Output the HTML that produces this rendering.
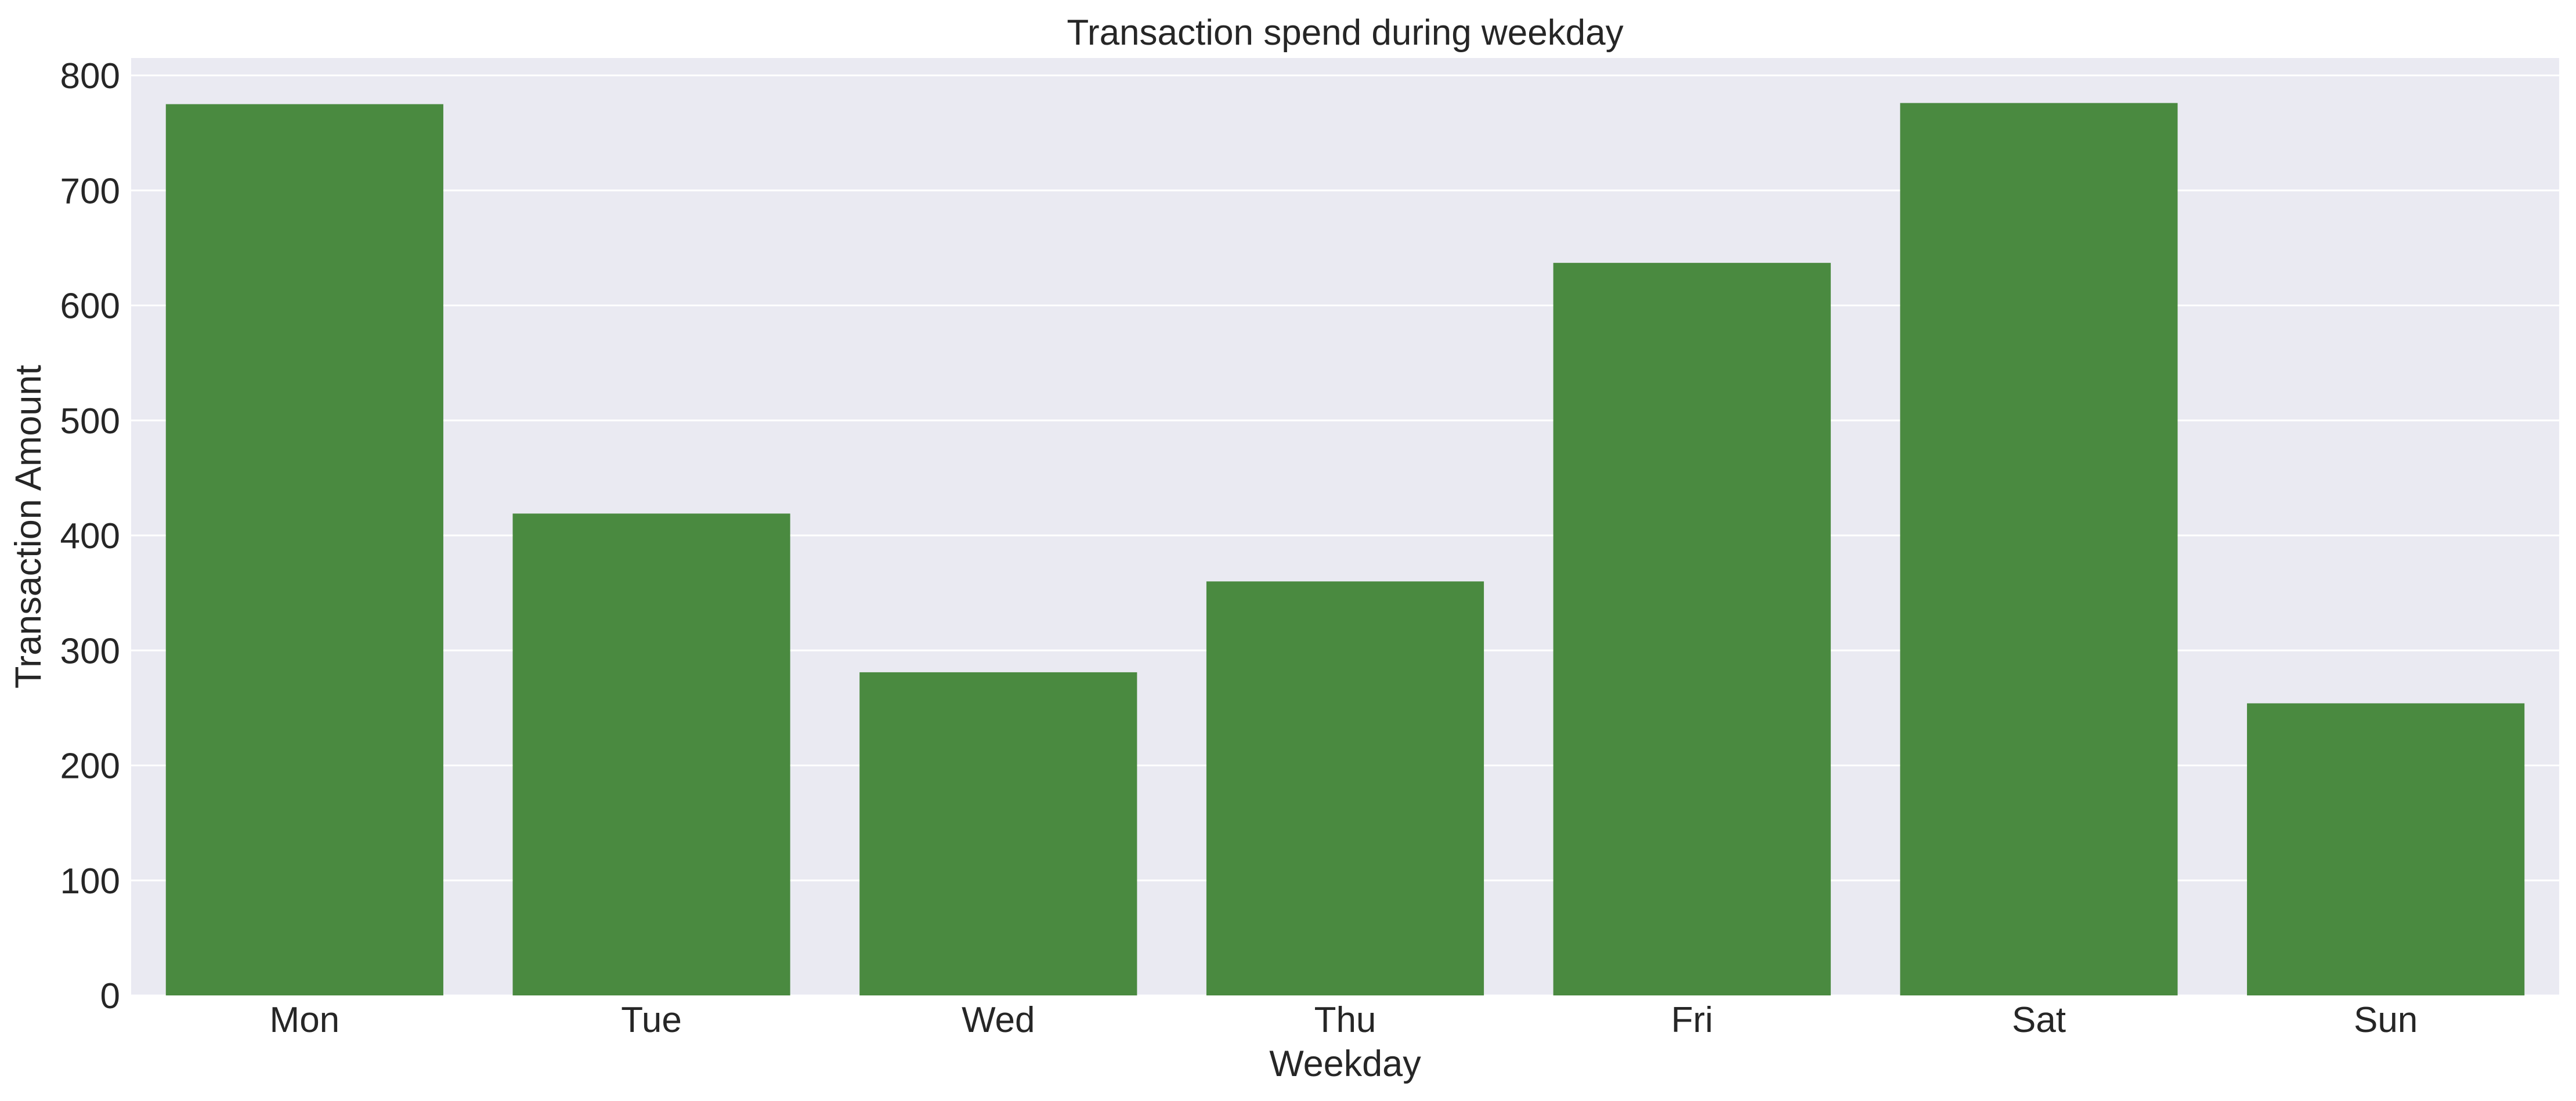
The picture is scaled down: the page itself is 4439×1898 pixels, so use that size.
<!DOCTYPE html>
<html><head><meta charset="utf-8"><style>
html,body{margin:0;padding:0;background:#fff;}
svg{display:block;font-family:"Liberation Sans",sans-serif;}
</style></head><body>
<svg id="chart" width="4439" height="1898" viewBox="0 0 4439 1898" xmlns="http://www.w3.org/2000/svg">
<rect x="226" y="100" width="4184" height="1616" fill="#eaeaf2"/>
<g id="grid"></g>
<g id="bars"></g>
<g id="yticks"></g>
<g id="xticks"></g>
<text x="2318" y="77" font-size="62" text-anchor="middle" fill="#262626">Transaction spend during weekday</text>
<text x="2318" y="1855" font-size="63" text-anchor="middle" fill="#262626">Weekday</text>
<text x="0" y="0" font-size="63" text-anchor="middle" fill="#262626" transform="translate(70,908) rotate(-90)">Transaction Amount</text>
</svg>
<script>
const categories = ["Mon","Tue","Wed","Thu","Fri","Sat","Sun"];
const values = [775, 419, 281, 360, 637, 776, 254];
const yTicks = [0,100,200,300,400,500,600,700,800];
const yTickLabels = ["0","100","200","300","400","500","600","700","800"];

const L=226, R=4410, Y0=1716, PX_PER_UNIT=(1716-130)/800;
const NS="http://www.w3.org/2000/svg";
const band=(R-L)/categories.length;
function xc(i){return L+band*(i+0.5);}
function y(v){return Y0-v*PX_PER_UNIT;}
function mk(tag,attrs,parent){const e=document.createElementNS(NS,tag);for(const k in attrs)e.setAttribute(k,attrs[k]);parent.appendChild(e);return e;}
const grid=document.getElementById('grid'),bars=document.getElementById('bars'),yt=document.getElementById('yticks'),xt=document.getElementById('xticks');
yTicks.forEach((t,i)=>{
  const ln=mk('line',{x1:L,x2:R,y1:y(t),y2:y(t),stroke:'#fff','stroke-width':3},grid);
  
  
  const tx=mk('text',{x:207,y:y(t)+22,'font-size':62,'text-anchor':'end',fill:'#262626'},yt);
  tx.textContent=yTickLabels[i];
  
  
});
categories.forEach((c,i)=>{
  const w=band*0.8;
  const r=mk('rect',{x:xc(i)-w/2,y:y(values[i]),width:w,height:Y0-y(values[i]),fill:'#4a8a40'},bars);
  
  
  const tx=mk('text',{x:xc(i),y:1779,'font-size':62,'text-anchor':'middle',fill:'#262626'},xt);
  tx.textContent=c;
  
  
});
</script>
</body></html>
